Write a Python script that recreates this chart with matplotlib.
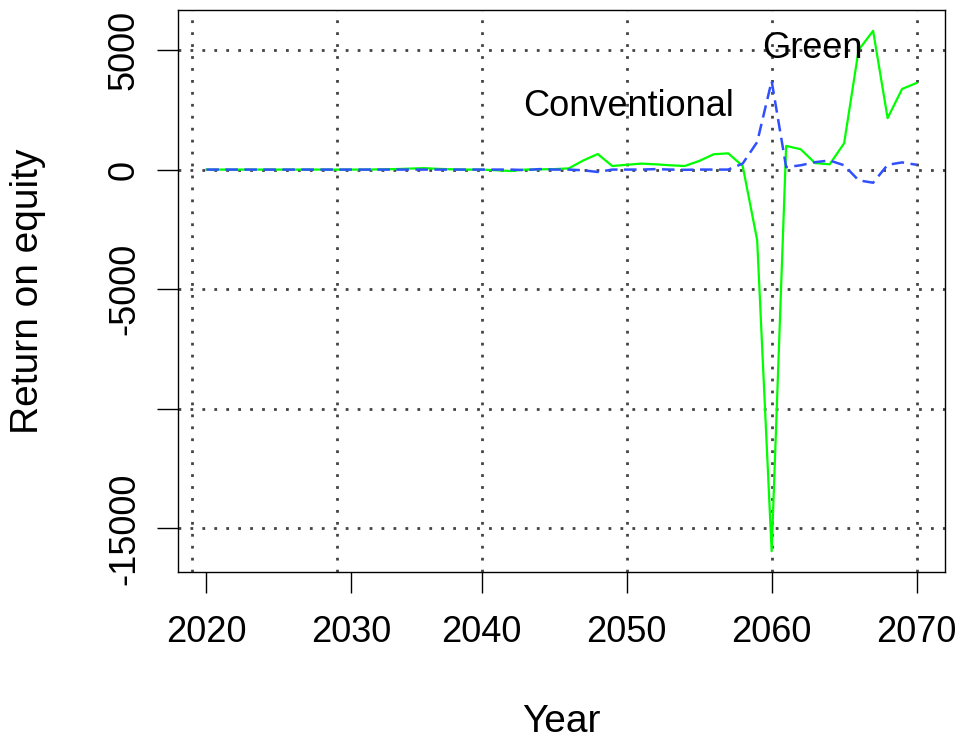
import matplotlib
matplotlib.use("Agg")
import matplotlib.pyplot as plt

# Data (annual, 2021-2070)
years = list(range(2021, 2071))

green = [0, 0, 0, 0, 0, 0, 0, 0, 0, 0,
         0, 0, 10, 20, 40, 60, 30, 10, 0, 0,
         -30, -60, 0, 10, 20,
         50, 380, 650, 150, 200, 250, 220, 180, 150, 360,
         640, 680, 150, -2950, -15950, 990, 850, 270, 220, 1100,
         5000, 5800, 2150, 3370, 3620]

conventional = [0, 0, 0, 0, 0, 0, 0, 0, 0, 0,
                0, 0, 0, 0, 0, 0, 0, 0, 0, 0,
                0, 0, -20, 20, 0,
                0, -30, -100, 0, 0, 0, 20, 0, -10, 0,
                0, 0, 250, 1150, 3700, 100, 180, 310, 380, 180,
                -450, -550, 200, 300, 200]

xtick_pos = [2021, 2031, 2040, 2050, 2060, 2070]
xtick_labels = ["2020", "2030", "2040", "2050", "2060", "2070"]
xgrid = [2020, 2030, 2040, 2050, 2060, 2070]
ytick_pos = [5000, 0, -5000, -10000, -15000]
ytick_labels = ["5000", "0", "-5000", "", "-15000"]

plt.rcParams['font.family'] = ['Liberation Sans', 'DejaVu Sans']

fig = plt.figure(figsize=(9.61, 7.42), dpi=100)
ax = fig.add_axes([178 / 961, 1 - 572 / 742, (945 - 178) / 961, (572 - 10) / 742])

# dotted grid like R's grid()
grid_style = dict(color='#444444', linewidth=2.0, linestyle=(0, (1, 3.3)), zorder=1)
for gx in xgrid:
    ax.axvline(gx, **grid_style)
for gy in ytick_pos:
    ax.axhline(gy, **grid_style)

ax.plot(years, green, color='#00ff00', linewidth=1.6, zorder=2)
ax.plot(years, conventional, color='#3050ff', linewidth=1.8,
        linestyle=(0, (5, 2.6)), zorder=3)

ax.text(2050.1, 2650, "Conventional", fontsize=26, ha='center', va='center')
ax.text(2062.8, 5050, "Green", fontsize=26, ha='center', va='center')

ax.set_xlim(2019.04, 2071.96)
ax.set_ylim(-16820, 6670)

ax.set_xticks(xtick_pos)
ax.set_xticklabels(xtick_labels)
ax.set_yticks(ytick_pos)
ax.set_yticklabels(ytick_labels, rotation=90, va='center')
ax.tick_params(axis='both', length=15, width=1.0, labelsize=26, direction='out')
ax.tick_params(axis='x', pad=16)
ax.tick_params(axis='y', pad=11)

for sp in ax.spines.values():
    sp.set_linewidth(1.0)

fig.text(28 / 961, 1 - 291 / 742, "Return on equity", fontsize=28,
         rotation=90, ha='center', va='center')
fig.text(561.5 / 961, 1 - 722 / 742, "Year", fontsize=28, ha='center', va='center')

fig.savefig("out.png", dpi=100)
